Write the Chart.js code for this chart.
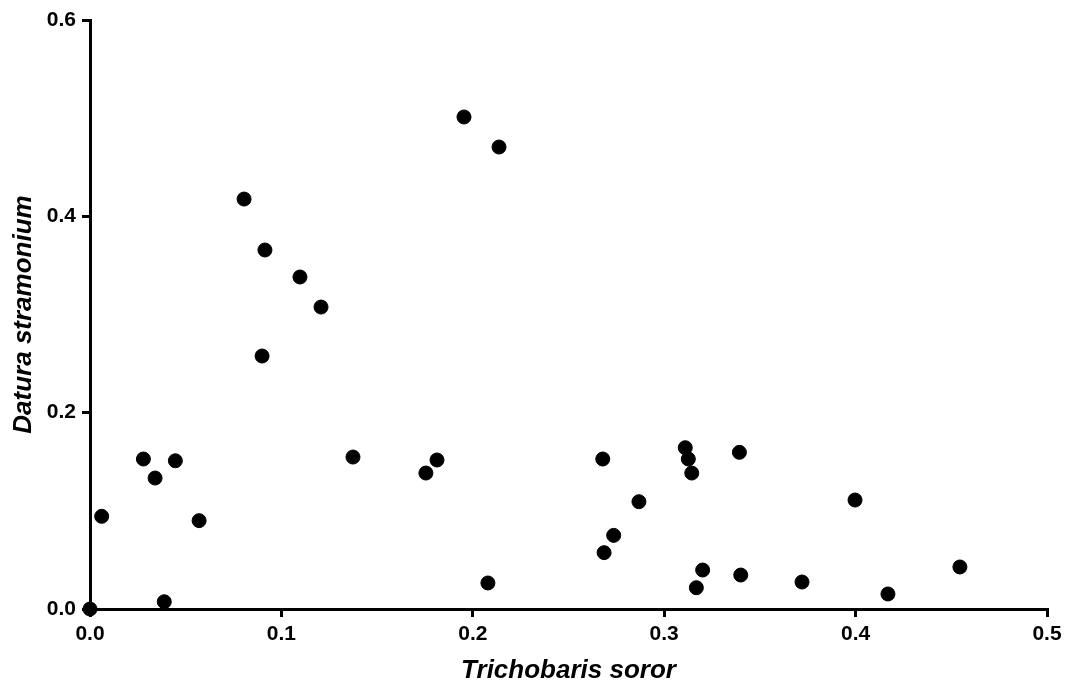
<!DOCTYPE html>
<html>
<head>
<meta charset="utf-8">
<script src="https://cdn.jsdelivr.net/npm/chart.js@4"></script>
<style>
  html, body { margin: 0; padding: 0; background: #fff; }
  #wrap { width: 1067px; height: 687px; }
</style>
</head>
<body>
<div id="wrap"><canvas id="scatterChart"></canvas></div>
<script>
// Proportions
const trichobaris = [
  0.0, 0.0061, 0.0279, 0.034, 0.0446, 0.0388, 0.057,
  0.0805, 0.0914, 0.0899, 0.1097, 0.1207, 0.1374,
  0.1755, 0.1813, 0.1954, 0.2137, 0.2079,
  0.2679, 0.2686, 0.2736, 0.2868, 0.311, 0.3126, 0.3144, 0.3393,
  0.3168, 0.3201, 0.34, 0.372, 0.3997, 0.4169, 0.4545
];
const datura = [
  0.0, 0.0944, 0.1528, 0.1334, 0.151, 0.0074, 0.090,
  0.4176, 0.3657, 0.2577, 0.3382, 0.3076, 0.1548,
  0.1385, 0.1518, 0.5012, 0.4706, 0.0265,
  0.1528, 0.0574, 0.075, 0.1093, 0.1643, 0.1528, 0.1385, 0.1596,
  0.0217, 0.0397, 0.0346, 0.0275, 0.111, 0.0153, 0.0428
];
const xTitle = 'Trichobaris soror';
const yTitle = 'Datura stramonium';

const points = trichobaris.map((x, i) => ({ x: x, y: datura[i] }));

const tickFont = { family: 'Liberation Sans, Arial, sans-serif', size: 21, weight: 'bold' };
const titleFont = { family: 'Liberation Sans, Arial, sans-serif', size: 26, weight: 'bold', style: 'italic' };

new Chart(document.getElementById('scatterChart').getContext('2d'), {
  type: 'scatter',
  data: {
    datasets: [{
      data: points,
      backgroundColor: '#000',
      borderColor: '#000',
      pointRadius: 7,
      pointHoverRadius: 7,
      clip: false
    }]
  },
  options: {
    responsive: true,
    maintainAspectRatio: false,
    animation: false,
    layout: { padding: { top: 20, right: 20 } },
    plugins: { legend: { display: false }, tooltip: { enabled: false } },
    scales: {
      x: {
        min: 0, max: 0.5,
        afterFit: function(s) { s.height = 78; },
        border: { display: true, color: '#000', width: 3 },
        grid: { drawOnChartArea: false, drawTicks: true, tickLength: 8, color: '#000', lineWidth: 3 },
        ticks: { stepSize: 0.1, color: '#000', font: tickFont, padding: 5,
                 callback: v => v.toFixed(1) },
        title: { display: true, text: xTitle, color: '#000', font: titleFont, padding: { top: 0, bottom: 1 } }
      },
      y: {
        min: 0, max: 0.6,
        afterFit: function(s) { s.width = 90; },
        border: { display: true, color: '#000', width: 3 },
        grid: { drawOnChartArea: false, drawTicks: true, tickLength: 8, color: '#000', lineWidth: 3 },
        ticks: { stepSize: 0.2, color: '#000', font: tickFont, padding: 6,
                 callback: v => v.toFixed(1) },
        title: { display: true, text: yTitle, color: '#000', font: titleFont, padding: { top: 8, bottom: 0 } }
      }
    }
  }
});
</script>
</body>
</html>
